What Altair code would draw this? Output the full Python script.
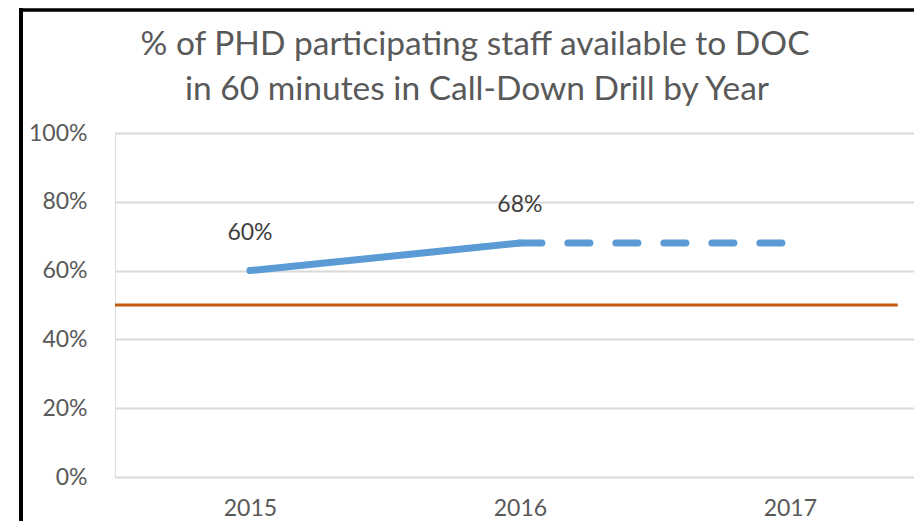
import altair as alt
import pandas as pd

# Data
actual_years = [2015, 2016]
actual_values = [0.60, 0.68]
proj_years = [2016, 2017]
proj_values = [0.68, 0.68]
target_x = [2014.5, 2017.4]
target_values = [0.50, 0.50]
label_years = [2015, 2016]
label_values = [0.60, 0.68]
label_texts = ["60%", "68%"]
x_ticks = [2015, 2016, 2017]
y_ticks = [0, 0.2, 0.4, 0.6, 0.8, 1.0]
title_lines = ["% of PHD participating staff available to DOC",
               "in 60 minutes in Call-Down Drill by Year"]

W, H = 799, 344
FONT = "Lato"
GREY = "#595959"
BLUE = "#5B9BD5"
ORANGE = "#C55A11"

actual_df = pd.DataFrame({"year": actual_years, "value": actual_values})
proj_df = pd.DataFrame({"year": proj_years, "value": proj_values})
target_df = pd.DataFrame({"year": target_x, "value": target_values})
label_df = pd.DataFrame({"year": label_years, "value": label_values, "text": label_texts})
t1_df = pd.DataFrame({"t": [title_lines[0]]})
t2_df = pd.DataFrame({"t": [title_lines[1]]})

xscale = alt.Scale(domain=[2014.5, 2017.46], nice=False, zero=False)
yscale = alt.Scale(domain=[0, 1], nice=False)

x_axis = alt.Axis(
    values=x_ticks, format="d", title=None, grid=False,
    domain=False, ticks=False,
    labelFont=FONT, labelFontSize=23, labelColor=GREY, labelPadding=20)
y_axis = alt.Axis(
    values=y_ticks, format=".0%", title=None, grid=True, gridColor="#D9D9D9", gridWidth=2,
    domain=False, ticks=False,
    labelFont=FONT, labelFontSize=23, labelColor=GREY, labelPadding=28)


def xe():
    return alt.X("year:Q", scale=xscale, axis=x_axis)


def ye():
    return alt.Y("value:Q", scale=yscale, axis=y_axis)


target = alt.Chart(target_df).mark_line(color=ORANGE, strokeWidth=3).encode(x=xe(), y=ye())
actual = alt.Chart(actual_df).mark_line(color=BLUE, strokeWidth=7, strokeCap="round").encode(
    x=xe(), y=ye())
proj = alt.Chart(proj_df).mark_line(color=BLUE, strokeWidth=7, strokeCap="round",
                                    strokeDash=[22, 26]).encode(x=xe(), y=ye())
labels = alt.Chart(label_df).mark_text(font=FONT, fontSize=23, color="#404040", dy=-38).encode(
    x=xe(), y=ye(), text="text:N")

title1 = alt.Chart(t1_df).mark_text(font=FONT, fontSize=33.5, color=GREY, baseline="alphabetic",
                                    align="center").encode(
    x=alt.value(360), y=alt.value(-78), text="t:N")
title2 = alt.Chart(t2_df).mark_text(font=FONT, fontSize=33.5, color=GREY, baseline="alphabetic",
                                    align="center").encode(
    x=alt.value(362), y=alt.value(-33), text="t:N")

border_left = alt.Chart(actual_df).mark_rule(color="black", strokeWidth=4).encode(
    x=alt.value(-94), y=alt.value(-125), y2=alt.value(H + 44))
border_top = alt.Chart(actual_df).mark_rule(color="black", strokeWidth=3).encode(
    x=alt.value(-96), x2=alt.value(W), y=alt.value(-123))

chart = alt.layer(target, actual, proj, labels, title1, title2, border_left, border_top).properties(
    width=W, height=H,
    autosize=alt.AutoSizeParams(type="none"),
    padding={"left": 107, "top": 125, "right": 0, "bottom": 44},
).configure_view(strokeWidth=0).configure(background="white")

chart.save("out.html", embed_options={"renderer": "svg", "actions": False})
